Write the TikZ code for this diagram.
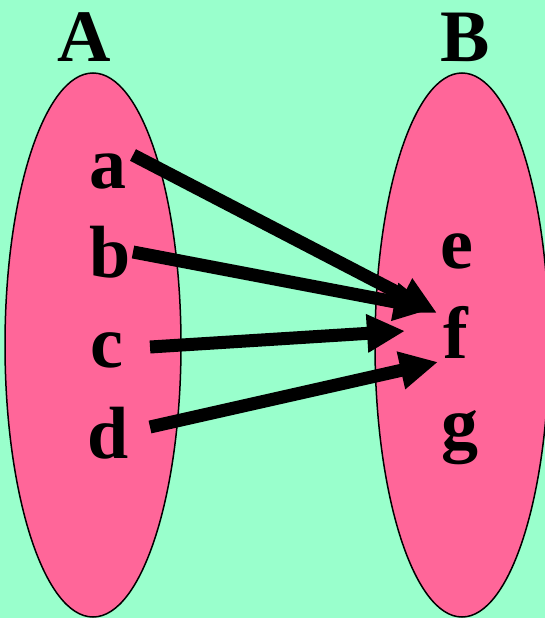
\documentclass[tikz,border=0pt]{standalone}
\usepackage{fontspec}
\setmainfont{Liberation Serif}
\usetikzlibrary{arrows.meta}
\definecolor{bg}{HTML}{99FFCC}
\definecolor{pk}{HTML}{FF6699}
\begin{document}
\begin{tikzpicture}[x=1pt,y=-1pt,
  setell/.style={fill=pk,draw=black,line width=1.5pt},
  lbl/.style={font=\fontsize{74}{74}\bfseries\selectfont,inner sep=0pt,anchor=base},
  arr/.style={line width=13pt,-{Triangle[length=38pt,width=36pt]}}]
\fill[bg] (0,0) rectangle (545,618);
\useasboundingbox (0,0) rectangle (545,618);
\clip (0,0) rectangle (545,618);
\draw[setell] (93,345) ellipse [x radius=88pt, y radius=272pt];
\draw[setell] (462,345) ellipse [x radius=87pt, y radius=272pt];
\node[lbl] (A) at (84,61) {A};
\node[lbl] (B) at (465,61) {B};
\node[lbl] (a) at (108,188) {a};
\node[lbl] (b) at (110,277) {b};
\node[lbl] (c) at (107,367) {c};
\node[lbl] (d) at (108,458) {d};
\node[lbl] (e) at (457,268) {e};
\node[lbl] (f) at (456,358) {f};
\node[lbl] (g) at (460,448) {g};
\coordinate (aS) at (133,155);
\coordinate (aE) at (437,313);
\coordinate (bS) at (133,252);
\coordinate (bE) at (432,309);
\coordinate (cS) at (150,347);
\coordinate (cE) at (405,331);
\coordinate (dS) at (150,427);
\coordinate (dE) at (438,362);
\draw[arr] (aS) -- (aE);
\draw[arr] (bS) -- (bE);
\draw[arr] (cS) -- (cE);
\draw[arr] (dS) -- (dE);
\end{tikzpicture}
\end{document}
